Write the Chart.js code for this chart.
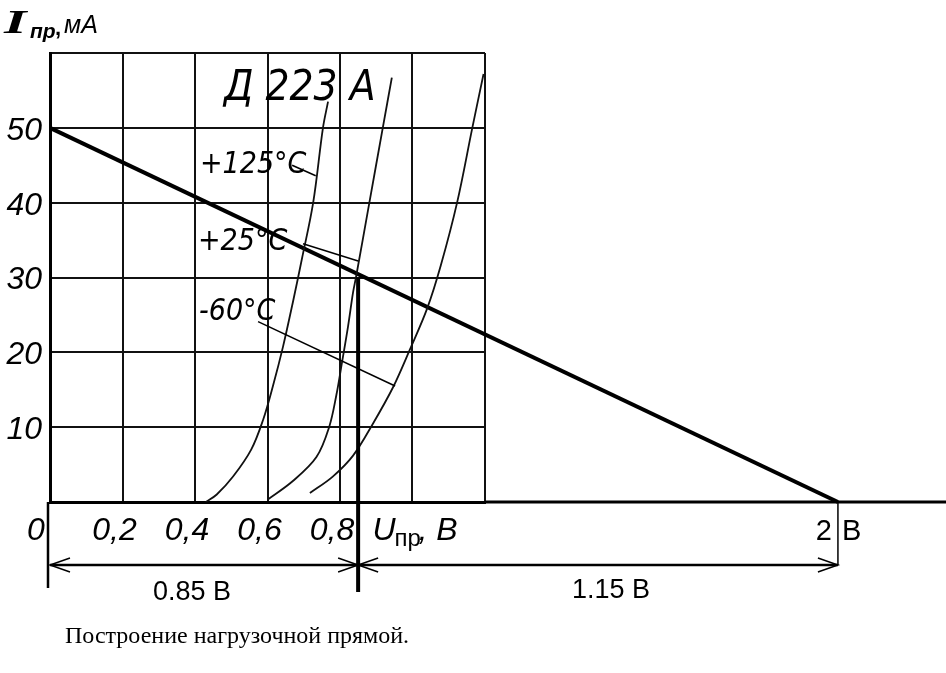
<!DOCTYPE html>
<html>
<head>
<meta charset="utf-8">
<script src="https://cdn.jsdelivr.net/npm/chart.js@4"></script>
<style>
  html, body { margin: 0; background: #fff; }
</style>
</head>
<body>
<canvas id="grafico" width="946" height="673"></canvas>
<script>
// значения
const xTicks = [0, 0.2, 0.4, 0.6, 0.8];
const yTicks = [10, 20, 30, 40, 50];

// ВАХ диода Д223А при трёх температурах (U, В / I, мА)
const u125 = [0.43, 0.46, 0.505, 0.555, 0.588, 0.615, 0.643, 0.67, 0.695, 0.726, 0.753, 0.767];
const i125 = [0, 1, 3.4, 7, 11, 15.5, 20.8, 26.7, 32.5, 40, 50, 53.5];

const u25 = [0.6, 0.67, 0.735, 0.77, 0.79, 0.806, 0.822, 0.836, 0.844, 0.881, 0.918, 0.943];
const i25 = [0.3, 2.8, 6, 10, 14.3, 18.8, 23.4, 28, 30, 40, 50, 56.7];

const u60 = [0.717, 0.78, 0.836, 0.89, 0.946, 0.993, 1.04, 1.078, 1.123, 1.165, 1.196];
const i60 = [1.2, 3.4, 6.2, 10.4, 15.3, 20.4, 25.8, 31.6, 40, 50, 57.2];

// нагрузочная прямая: Е = 2 В, Iкз = 50 мА
const loadU = [0, 2];
const loadI = [50, 0];

// рабочая точка
const uOp = 0.85;
const iOp = 30;

// ось U на рисунке за пределами сетки нарисована не в масштабе
const OUTER_STRETCH = 1.217;
class BrokenLinearScale extends Chart.LinearScale {
  static id = 'brokenLinear';
  getPixelForValue(value) {
    if (value <= this.max) return super.getPixelForValue(value);
    const inner = (this.right - this.left) / (this.max - this.min);
    return this.right + (value - this.max) * inner * OUTER_STRETCH;
  }
}
Chart.register(BrokenLinearScale);

const pts = (us, is) => us.map((u, k) => ({ x: u, y: is[k] }));

const NARROW = '"Liberation Sans Narrow", "DejaVu Sans Condensed", sans-serif';
const SANS = '"Liberation Sans", Arial, sans-serif';

function txt(ctx, s, x, y, font, align) {
  ctx.font = font;
  ctx.textAlign = align || 'left';
  ctx.fillText(s, x, y);
}

function arrow(ctx, x, y, dir) {
  ctx.beginPath();
  ctx.moveTo(x + dir * 20, y - 7);
  ctx.lineTo(x, y);
  ctx.lineTo(x + dir * 20, y + 7);
  ctx.stroke();
}

const podpisi = {
  id: 'podpisi',
  afterDraw(chart) {
    const ctx = chart.ctx;
    const xs = chart.scales.x, ys = chart.scales.y;
    const X = v => xs.getPixelForValue(v);
    const Y = v => ys.getPixelForValue(v);
    const y0 = Y(0);
    ctx.save();
    ctx.fillStyle = '#000';
    ctx.strokeStyle = '#000';

    // продолжение оси U
    ctx.lineWidth = 3;
    ctx.beginPath();
    ctx.moveTo(chart.chartArea.right, y0);
    ctx.lineTo(chart.width, y0);
    ctx.stroke();

    // подписи оси I
    ctx.textBaseline = 'middle';
    yTicks.forEach(v => txt(ctx, String(v), 42, Y(v) + 3, 'italic 32px ' + SANS, 'right'));
    ctx.textBaseline = 'alphabetic';

    // подписи оси U
    xTicks.forEach(v => {
      const s = String(v).replace('.', ',');
      txt(ctx, s, X(v) - (v === 0 ? 14 : 8), 540, 'italic 32px ' + SANS, 'center');
    });
    const ux = X(1.0) - 40;
    txt(ctx, 'U', ux, 540, 'italic 32px ' + SANS);
    txt(ctx, 'пр', ux + 22, 546, '24px ' + SANS);
    txt(ctx, ', В', ux + 46, 540, 'italic 32px ' + SANS);

    // Iпр, мА
    ctx.save();
    ctx.translate(4, 33);
    ctx.scale(1.7, 1);
    txt(ctx, 'I', 0, 0, 'bold italic 34px "Liberation Serif", serif');
    ctx.restore();
    txt(ctx, 'пр', 30, 38, 'bold italic 21px ' + SANS);
    txt(ctx, ',', 55, 35, 'bold 22px ' + SANS);
    txt(ctx, 'мА', 64, 33, 'italic 25px ' + SANS);

    // надписи на поле графика
    txt(ctx, 'Д 223 А', 224, 100, 'italic 42px ' + NARROW);
    txt(ctx, '+125°C', 200, 173, 'italic 30px ' + NARROW);
    txt(ctx, '+25°C', 198, 250, 'italic 30px ' + NARROW);
    txt(ctx, '-60°C', 199, 320, 'italic 30px ' + NARROW);

    // выноски
    ctx.lineWidth = 1.5;
    [[0.668, 45, 0.733, 43.6], [0.698, 34.5, 0.85, 32.2], [0.574, 24.1, 0.952, 15.5]].forEach(l => {
      ctx.beginPath();
      ctx.moveTo(X(l[0]), Y(l[1]));
      ctx.lineTo(X(l[2]), Y(l[3]));
      ctx.stroke();
    });

    // размерные линии
    const xa = X(0), xo = X(uOp), xe = X(loadU[1]);
    const yd = 565;
    ctx.lineWidth = 2.5;
    ctx.beginPath();
    ctx.moveTo(xa - 2, y0);
    ctx.lineTo(xa - 2, 588);
    ctx.moveTo(xa, yd);
    ctx.lineTo(xe, yd);
    ctx.stroke();
    ctx.lineWidth = 1.5;
    ctx.beginPath();
    ctx.moveTo(xe, y0);
    ctx.lineTo(xe, yd);
    ctx.stroke();
    arrow(ctx, xa, yd, 1);
    arrow(ctx, xo, yd, -1);
    arrow(ctx, xo, yd, 1);
    arrow(ctx, xe, yd, -1);

    // перпендикуляр из рабочей точки
    ctx.lineWidth = 4;
    ctx.beginPath();
    ctx.moveTo(xo, Y(iOp));
    ctx.lineTo(xo, 592);
    ctx.stroke();

    txt(ctx, uOp.toFixed(2) + ' В', (xa + xo) / 2 - 12, 600, '27px ' + SANS, 'center');
    txt(ctx, (loadU[1] - uOp).toFixed(2) + ' В', (xo + xe) / 2 + 13, 598, '27px ' + SANS, 'center');
    txt(ctx, String(loadU[1]), xe - 6, 540, '29px ' + SANS, 'right');
    txt(ctx, 'В', xe + 4, 540, '29px ' + SANS, 'left');

    txt(ctx, 'Построение нагрузочной прямой.', 65, 643, '24px "Liberation Serif", "Times New Roman", serif');
    ctx.restore();
  }
};

const linia = { borderColor: '#111', borderWidth: 1.8, pointRadius: 0, fill: false, tension: 0.35 };

new Chart(document.getElementById('grafico'), {
  type: 'line',
  data: {
    datasets: [
      { label: '+125°C', data: pts(u125, i125), ...linia },
      { label: '+25°C', data: pts(u25, i25), ...linia },
      { label: '-60°C', data: pts(u60, i60), ...linia },
      {
        label: 'нагрузочная прямая',
        data: pts(loadU, loadI),
        borderColor: '#000',
        borderWidth: 4,
        pointRadius: [0, 4],
        pointBackgroundColor: '#000',
        pointBorderWidth: 0,
        clip: false
      }
    ]
  },
  options: {
    responsive: false,
    animation: false,
    layout: { padding: { left: 50, top: 53, right: 461, bottom: 171 } },
    plugins: { legend: { display: false }, tooltip: { enabled: false } },
    scales: {
      x: {
        type: 'brokenLinear',
        min: 0,
        max: 1.2,
        ticks: { display: false, stepSize: 0.2 },
        grid: { color: '#111', lineWidth: 2, drawTicks: false },
        border: { color: '#000', width: 3 }
      },
      y: {
        min: 0,
        max: 60,
        ticks: { display: false, stepSize: 10 },
        grid: { color: '#111', lineWidth: 2, drawTicks: false },
        border: { color: '#000', width: 3 }
      }
    }
  },
  plugins: [podpisi]
});
</script>
</body>
</html>
